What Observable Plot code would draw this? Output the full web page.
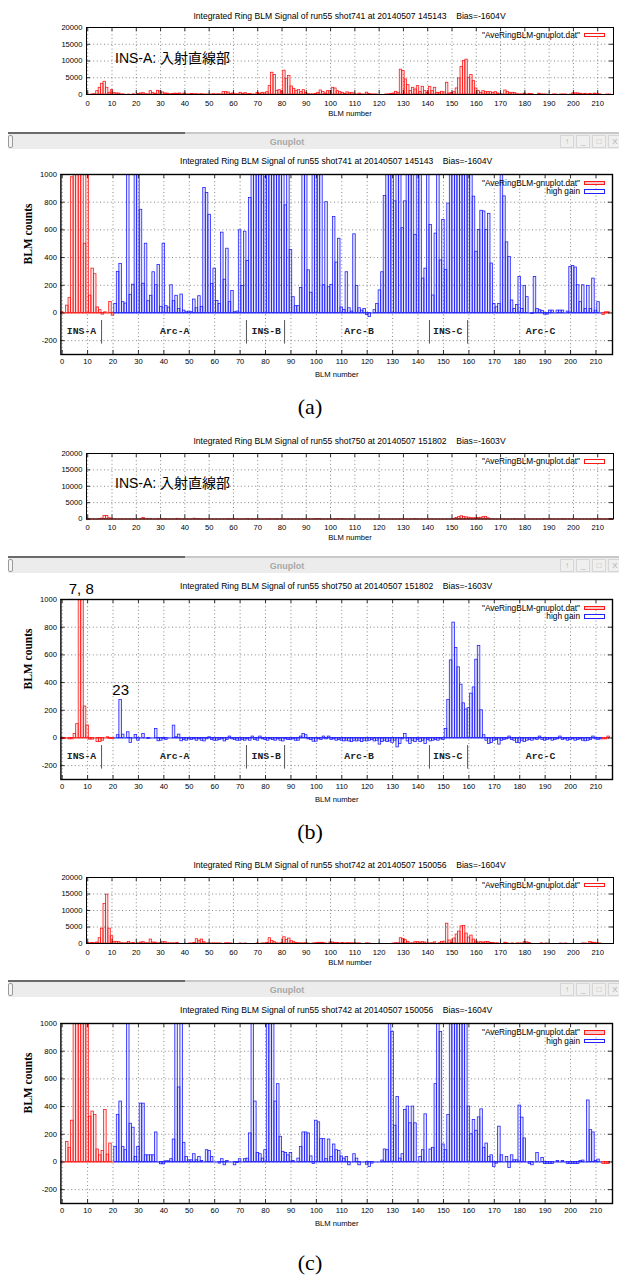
<!DOCTYPE html>
<html><head><meta charset="utf-8">
<script src="https://cdn.jsdelivr.net/npm/d3@7"></script>
<script src="https://cdn.jsdelivr.net/npm/@observablehq/plot@0.6"></script>
<style>
body{margin:0;background:#fff;}
#page{position:relative;width:619px;height:1277px;overflow:hidden;background:#fff;font-family:"Liberation Sans",sans-serif;}
.t{position:absolute;white-space:pre;line-height:1;}
.title{font-size:8.6px;color:#000;transform:translate(-50%,-50%);}
.cap{font-family:"Liberation Serif",serif;font-size:22px;color:#000;transform:translate(-50%,-50%);}
.leg{font-size:8.3px;color:#000;transform:translate(-100%,-50%);}
.box{position:absolute;width:21px;height:4.5px;box-sizing:border-box;}
.winline{position:absolute;left:8px;width:611px;height:2px;background:linear-gradient(to right,#6a6a6a 0,#6a6a6a 177px,#c8c8c8 177px,#c8c8c8 100%);}
.winbar{position:absolute;left:8px;width:611px;background:#ececec;}
.wintxt{font-weight:bold;font-size:9px;color:#a8a8a8;transform:translate(-50%,-50%);}
.btn{position:absolute;width:14px;border:1px solid #d6d6d6;box-sizing:border-box;color:#b0b0b0;font-size:8px;text-align:center;background:#efefef;}
.wedge{position:absolute;left:8px;width:5px;border:1px solid #9a9a9a;border-radius:2px;box-sizing:border-box;background:#f4f4f4;}
</style></head><body><div id="page"></div>
<script>
// ---------- tick labels ----------
const xTicks = [0,10,20,30,40,50,60,70,80,90,100,110,120,130,140,150,160,170,180,190,200,210];
const yTicksTop = [0,5000,10000,15000,20000];
const yTicksBot = [-200,0,200,400,600,800,1000];
const xDomain = [-0.5, 216.5];

// ---------- segment annotation ----------
const segNames = ["INS-A","Arc-A","INS-B","Arc-B","INS-C","Arc-C"];
const segCenters = [7.6, 44.3, 80.3, 116.8, 151.7, 188.2];
const segSeps = [15.5, 72.5, 87.5, 144.5, 159.5];

// ---------- (a) shot741 : normal gain, BLM 0..216 ----------
const aTop = [
5,0,50,110,1000,2000,3200,3800,2000,500,
1300,400,320,280,40,20,0,5,0,80,
0,200,300,400,80,70,1000,400,200,1100,
900,600,300,250,100,120,250,200,300,50,
300,50,40,150,80,100,30,100,20,5,
10,5,100,30,100,40,700,700,600,200,
300,80,60,500,200,400,80,150,5,10,
500,200,500,350,700,2500,6500,5800,1100,1300,
900,7100,4700,5500,2400,1700,1100,1300,700,1300,
400,100,50,50,180,500,1200,800,300,1000,
1000,2000,1800,1000,700,500,200,650,350,500,
40,20,280,30,10,550,190,30,15,30,
0,0,0,20,60,160,280,800,500,7400,
7000,4500,2800,1000,2000,1500,2500,700,2300,1000,
500,2300,1000,2000,500,500,800,600,3500,300,
400,700,1800,4800,8200,10000,10400,5000,5800,4000,
1800,1000,500,1000,700,700,700,500,700,300,
60,40,1200,800,400,500,400,90,30,50,
250,30,190,110,0,0,250,30,20,15,
0,0,17,17,0,17,17,17,0,10,
330,340,330,200,80,200,30,190,30,250,
20,80,0,0,5,5,0];
// (a) zoomed: normal gain BLM 0..20 and 213..215, high gain BLM 21..212
const aRedHead = [5,0,53,107,980,1500,1500,1500,1500,500,1500,125,320,280,40,20,-12,5,0,80,-20];
const aRedTail = [-15,5,5];
const aBlue = [
65,296,354,78,68,1500,131,204,1500,
1500,745,211,500,85,124,294,200,347,44,
500,49,39,200,85,124,29,133,17,5,
10,5,97,34,121,44,903,866,709,209,
320,87,65,580,240,464,78,158,5,10,
597,194,587,375,830,1500,1500,1500,1500,1500,
980,1500,1500,1500,1500,1500,1500,1500,777,1500,
454,114,49,49,180,1500,1500,308,146,1500,
1500,1500,1500,200,800,186,203,693,364,536,
40,22,294,34,10,568,194,34,17,29,
-15,-30,0,20,65,163,294,845,1500,1500,
1500,806,1500,1500,612,806,1500,1500,1500,563,
1500,1500,248,320,1500,636,126,573,1500,379,
672,310,790,1500,1500,1500,1500,1500,1500,1500,
1500,1500,840,442,600,738,733,600,716,357,
65,41,65,1500,842,510,405,90,29,58,
260,29,194,114,0,-7,260,29,20,15,
-12,-12,17,17,0,17,17,17,0,10,
333,340,328,200,78,200,29,194,29,248,
17,78,0];

// ---------- (b) shot750 ----------
const bTop = [
0,0,0,0,0,25,100,900,950,225,
90,0,0,0,0,0,0,0,0,0,
0,0,20,275,24,0,41,0,0,22,
0,0,29,0,0,0,0,65,0,0,
0,0,0,0,89,5,24,0,0,0,
0,0,0,0,0,0,0,0,5,0,
0,0,0,0,0,0,10,0,0,0,
0,0,0,0,0,10,0,0,10,0,
0,0,0,0,0,0,0,0,0,0,
0,0,0,0,10,29,20,0,0,0,
0,0,0,10,0,10,0,0,0,0,
0,0,0,0,0,0,0,0,0,0,
0,0,0,0,0,0,0,0,0,0,
0,0,0,0,0,29,0,0,0,0,
0,0,0,0,0,0,0,0,0,0,
0,65,275,560,833,650,510,385,250,205,
215,320,365,565,665,200,20,0,0,0,
0,0,0,0,0,0,10,0,0,0,
0,0,0,0,0,0,0,0,10,0,
0,0,0,0,0,0,10,0,0,0,
0,0,0,0,0,0,0,0,0,10,
0,0,0,0,0,10,0];
const bRedHead = [-7,-7,0,-10,-10,29,100,1500,1500,227,90,-12,-12,0,-30,-30,-20,0,5,-7,-7];
const bRedTail = [-10,-10,10];
const bBlue = [
0,20,275,24,0,41,-36,0,22,
-20,0,29,0,-7,0,0,65,-24,-20,
-7,-15,0,0,89,5,24,-24,-15,-20,
-10,-15,-10,-20,-10,-20,-25,-10,5,-15,
-20,-20,-15,-10,-25,-15,10,-10,-15,-20,
-20,-15,-20,-10,-20,10,-15,-20,10,-10,
-15,-20,-10,-15,-20,-10,-20,-25,-10,-15,
-15,-10,-20,-20,10,29,20,-10,-15,-27,
-27,-10,-15,10,-10,10,-15,-10,-20,-15,
-20,-25,-20,-25,-30,-20,-25,-20,-30,-20,
-25,-20,-15,-25,-20,-48,-30,-20,-30,-25,
-35,-20,-68,-44,-10,29,-25,-44,-20,-30,
-15,-30,-20,-44,-15,-25,-20,-15,-20,-10,
-15,65,275,560,833,650,510,385,250,205,
215,320,365,565,665,200,20,-20,-44,-36,
-20,-15,-48,-20,-15,-10,10,-15,-20,-36,
-36,-20,-30,-20,-15,-20,-10,-15,10,-15,
-20,-15,-10,-20,-15,-10,10,-15,-10,-20,
-15,-10,-20,-15,-10,-20,-24,-20,-15,10,
-10,-15,-10];

// ---------- (c) shot742 ----------
const cTop = [
100,100,145,100,300,1600,4500,12000,14800,4500,
2200,500,500,400,90,50,80,500,50,130,
0,100,300,400,100,80,1200,300,250,40,
100,400,400,50,50,50,50,200,0,0,
0,0,5,20,160,1300,800,1200,400,40,
12,12,56,12,36,7,0,80,80,36,
0,0,0,20,0,7,0,0,0,0,
20,0,20,24,200,1600,800,400,60,24,
80,1900,1100,1500,700,400,180,70,60,50,
60,7,0,24,100,200,200,200,40,0,
300,300,160,160,20,160,36,120,85,80,
40,24,36,0,0,56,24,0,0,0,
0,0,0,0,0,0,10,90,85,1600,
1400,1000,500,30,60,400,400,300,400,300,
0,36,85,350,0,100,500,550,6000,900,
150,1500,2700,3600,5200,5300,3000,1800,2400,1200,
600,300,400,300,400,450,150,150,50,50,
0,0,250,50,0,40,0,50,10,10,
400,350,150,0,0,0,0,60,0,30,
0,0,0,0,0,7,0,7,0,0,
0,0,0,0,7,10,0,450,250,200,
7,17,0,0,0,0,0];
const cRedHead = [0,0,145,100,298,1500,1500,1500,1500,1500,1500,327,364,340,90,48,80,376,53,133,0];
const cRedTail = [-15,-15,-15];
const cBlue = [
109,340,436,109,85,1500,276,247,36,
109,421,421,48,48,48,48,213,0,-17,
-17,5,5,20,162,1500,538,1500,138,36,
12,12,56,12,36,7,0,85,80,36,
0,0,-12,20,-24,7,0,0,-24,-7,
20,0,20,24,206,1500,436,65,56,24,
85,1500,1500,1500,436,562,182,73,65,48,
65,7,0,24,109,213,213,206,40,-15,
298,286,165,165,20,162,36,126,85,80,
40,24,36,-24,0,56,24,-24,0,0,
-20,-36,-12,0,0,0,10,90,85,1500,
938,262,470,24,56,376,400,279,400,279,
0,36,85,344,0,90,102,562,1500,938,
126,85,340,1500,1500,1500,1500,1500,1500,1500,
400,200,303,225,322,380,102,133,36,48,
-36,-12,255,48,0,36,-44,48,12,12,
407,320,170,0,-15,-24,0,65,0,29,
-15,-15,-15,-15,0,7,0,7,0,-15,
-15,-15,-15,-15,7,10,0,444,230,213,
7,17,0];

const RED = "#ff1a1a", BLUE = "#2222ff";
const W = 619;
const page = document.getElementById("page");

function series(values, start, color) {
  return {data: values.map((v, k) => ({i: start + k, v})), start, end: start + values.length - 1, color};
}

function addDiv(cls, text, left, top, extra) {
  const d = document.createElement("div");
  d.className = cls;
  if (text != null) d.textContent = text;
  d.style.left = left + "px"; d.style.top = top + "px";
  if (extra) Object.assign(d.style, extra);
  page.appendChild(d);
  return d;
}

function panel(cfg) {
  const fw = cfg.right - cfg.left, fh = cfg.bottom - cfg.top;
  const mt = 4, mb = 30;
  const [y0, y1] = cfg.yDomain;
  const tl = 4;
  const ty = (y1 - y0) * tl / fh, tx = (xDomain[1] - xDomain[0]) * tl / fw;
  const grid = {stroke: "#000", strokeOpacity: 0.6, strokeDasharray: "1,2.6", strokeWidth: 0.8};
  const marks = [
    Plot.gridX(xTicks, grid),
    Plot.gridY(cfg.yTicks, grid)
  ];
  for (const s of cfg.series) {
    marks.push(Plot.rect(s.data, {
      x1: d => d.i - 0.5, x2: d => d.i + 0.5, y1: 0, y2: "v",
      fill: s.color, fillOpacity: 0.13, stroke: s.color, strokeWidth: 0.8, clip: true
    }));
    marks.push(Plot.ruleY([0], {x1: Math.max(xDomain[0], s.start - 0.5), x2: Math.min(xDomain[1], s.end + 0.5), stroke: s.color, strokeWidth: 1}));
  }
  marks.push(
    Plot.ruleX(xTicks, {y1: y0, y2: y0 + ty, stroke: "#000", strokeWidth: 0.8}),
    Plot.ruleX(xTicks, {y1: y1 - ty, y2: y1, stroke: "#000", strokeWidth: 0.8}),
    Plot.ruleY(cfg.yTicks, {x1: xDomain[0], x2: xDomain[0] + tx, stroke: "#000", strokeWidth: 0.8}),
    Plot.ruleY(cfg.yTicks, {x1: xDomain[1] - tx, x2: xDomain[1], stroke: "#000", strokeWidth: 0.8}),
    Plot.frame({stroke: "#000", strokeWidth: cfg.frameW}),
    Plot.axisX(xTicks, {tickSize: 0, tickPadding: cfg.xPad, label: null, tickFormat: d => String(d), fontSize: 7.6}),
    Plot.axisY(cfg.yTicks, {tickSize: 0, tickPadding: 4, label: null, tickFormat: d => String(d), fontSize: 7.6}),
    Plot.text(["BLM number"], {frameAnchor: "bottom", dy: cfg.xlabDy, fontSize: 7.6})
  );
  if (cfg.extra) marks.push(...cfg.extra);
  const svg = Plot.plot({
    width: W, height: fh + mt + mb,
    marginLeft: cfg.left, marginRight: W - cfg.right, marginTop: mt, marginBottom: mb,
    x: {domain: xDomain}, y: {domain: cfg.yDomain},
    style: {fontFamily: "Liberation Sans, sans-serif", fontSize: "7.6px", background: "transparent", overflow: "visible", color: "#000"},
    marks
  });
  svg.style.position = "absolute"; svg.style.left = "0px"; svg.style.top = (cfg.top - mt) + "px";
  page.appendChild(svg);
  addDiv("t title", cfg.title, (cfg.left + cfg.right) / 2, cfg.titleY);
}

function window_(y) {
  addDiv("winline", null, 8, y);
  addDiv("winbar", null, 8, y + 2, {height: "15px"});
  addDiv("wedge", null, 8, y + 3, {height: "13px"});
  addDiv("t wintxt", "Gnuplot", 287, y + 10);
  const syms = ["↑", "_", "□", "X"];
  const xs = [560, 576, 592, 608];
  syms.forEach((s, k) => addDiv("btn", s, xs[k], y + 3, {height: "13px", lineHeight: "12px"}));
}

function legend(items, rightX, ys) {
  items.forEach((it, k) => {
    addDiv("t leg", it.label, rightX, ys[k]);
    addDiv("box", null, rightX + 4, ys[k] - 1.8, {border: "1px solid " + it.color, background: it.fill});
  });
}

const insLabel = (dy) => Plot.text(["INS-A: 入射直線部"], {frameAnchor: "top-left", dx: 28.5, dy, textAnchor: "start", fontSize: 14, fontFamily: "Liberation Sans, Noto Sans CJK JP, sans-serif", fill: "#000"});
const blmCounts = Plot.text(["BLM counts"], {frameAnchor: "left", dx: -33, rotate: -90, fontFamily: "Liberation Serif, serif", fontWeight: "bold", fontSize: 11.5, fill: "#000"});
const segMarks = () => [
  Plot.text(segNames, {x: (d, k) => segCenters[k], y: -128, fontFamily: "Liberation Mono, monospace", fontWeight: "bold", fontSize: 9.8, fill: "#222"}),
  Plot.ruleX(segSeps, {y1: -55, y2: -225, stroke: "#555", strokeWidth: 1})
];

const T_A = "Integrated Ring BLM Signal of run55 shot741 at 20140507 145143    Bias=-1604V";
const T_B = "Integrated Ring BLM Signal of run55 shot750 at 20140507 151802    Bias=-1603V";
const T_C = "Integrated Ring BLM Signal of run55 shot742 at 20140507 150056    Bias=-1604V";
const LEG_DAT = "\"AveRingBLM-gnuplot.dat\"";

// ---------- (a) ----------
panel({left: 86, right: 613, top: 27, bottom: 94, yDomain: [0, 20000], yTicks: yTicksTop, frameW: 1,
  xPad: 6, xlabDy: 21, titleY: 16, title: T_A,
  series: [series(aTop, 0, RED)], extra: [insLabel(26)]});
legend([{label: LEG_DAT, color: RED, fill: "#fff"}], 580, [34.5]);
window_(131.5);
panel({left: 60.4, right: 612, top: 174, bottom: 354, yDomain: [-300, 1000], yTicks: yTicksBot, frameW: 1.4,
  xPad: 4.5, xlabDy: 22, titleY: 161, title: T_A,
  series: [series(aRedHead, 0, RED), series(aBlue, 21, BLUE), series(aRedTail, 213, RED)],
  extra: [blmCounts, ...segMarks()]});
legend([{label: LEG_DAT, color: RED, fill: "#ffc4c4"}, {label: "high gain", color: BLUE, fill: "#fff"}], 580, [182.5, 191.2]);
addDiv("t cap", "(a)", 310, 407);

// ---------- (b) ----------
panel({left: 86, right: 613, top: 453, bottom: 518.5, yDomain: [0, 20000], yTicks: yTicksTop, frameW: 1,
  xPad: 6, xlabDy: 21, titleY: 441, title: T_B,
  series: [series(bTop, 0, RED)], extra: [insLabel(25)]});
legend([{label: LEG_DAT, color: RED, fill: "#fff"}], 580, [461]);
window_(555.5);
panel({left: 60.4, right: 612, top: 599, bottom: 779, yDomain: [-300, 1000], yTicks: yTicksBot, frameW: 1.4,
  xPad: 4.5, xlabDy: 22, titleY: 586, title: T_B,
  series: [series(bRedHead, 0, RED), series(bBlue, 21, BLUE), series(bRedTail, 213, RED)],
  extra: [blmCounts, ...segMarks(),
    Plot.text(["7, 8"], {x: 7.5, y: 1000, dy: -10, fontSize: 15, fontFamily: "Liberation Sans, sans-serif", fill: "#000"}),
    Plot.text(["23"], {x: 23, y: 275, dy: -10, fontSize: 15, fontFamily: "Liberation Sans, sans-serif", fill: "#000"})]});
legend([{label: LEG_DAT, color: RED, fill: "#ffc4c4"}, {label: "high gain", color: BLUE, fill: "#fff"}], 580, [607.5, 616.2]);
addDiv("t cap", "(b)", 310, 832);

// ---------- (c) ----------
panel({left: 86, right: 613, top: 877, bottom: 943, yDomain: [0, 20000], yTicks: yTicksTop, frameW: 1,
  xPad: 6, xlabDy: 21, titleY: 865, title: T_C,
  series: [series(cTop, 0, RED)]});
legend([{label: LEG_DAT, color: RED, fill: "#fff"}], 580, [884.5]);
window_(979.5);
panel({left: 60.4, right: 612, top: 1023, bottom: 1203, yDomain: [-300, 1000], yTicks: yTicksBot, frameW: 1.4,
  xPad: 4.5, xlabDy: 22, titleY: 1010, title: T_C,
  series: [series(cRedHead, 0, RED), series(cBlue, 21, BLUE), series(cRedTail, 213, RED)],
  extra: [blmCounts]});
legend([{label: LEG_DAT, color: RED, fill: "#ffc4c4"}, {label: "high gain", color: BLUE, fill: "#fff"}], 580, [1032, 1040.5]);
addDiv("t cap", "(c)", 310, 1263);
</script></body></html>
